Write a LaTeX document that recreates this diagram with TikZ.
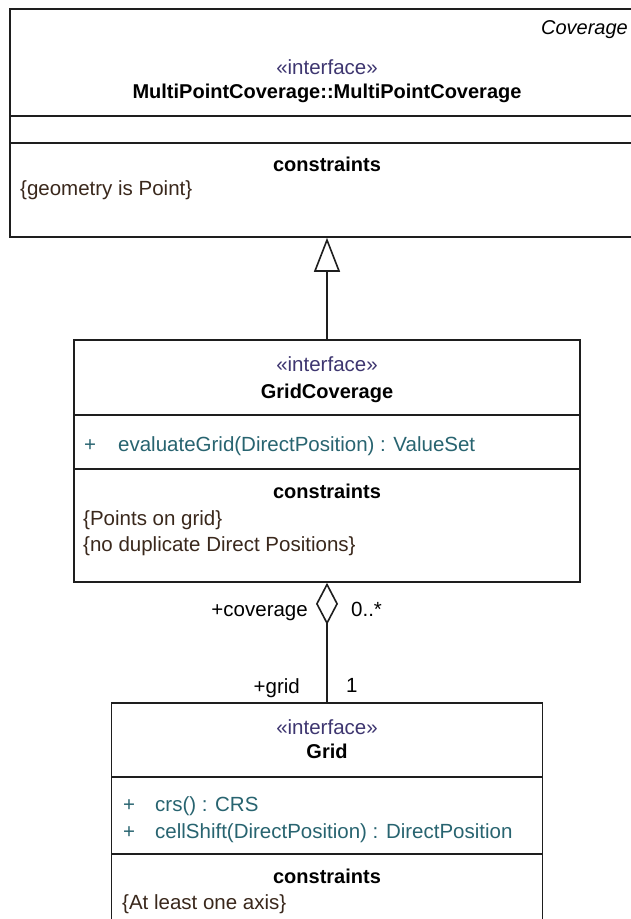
\documentclass[tikz,border=0pt]{standalone}
\usepackage{fontspec}
\setmainfont{Liberation Sans}
\usetikzlibrary{arrows.meta}
\definecolor{stereo}{RGB}{62,54,112}
\definecolor{opcol}{RGB}{40,100,112}
\definecolor{cstcol}{RGB}{58,40,28}
\definecolor{linecol}{RGB}{30,30,30}
\tikzset{
  umlfont/.style={font=\fontsize{20.5}{24}\selectfont},
  classbox/.style={draw=linecol, line width=1.6pt, fill=white, rectangle, inner sep=0pt},
  sepline/.style={draw=linecol, line width=1.6pt},
  stereotxt/.style={umlfont, text=stereo, anchor=mid},
  titletxt/.style={font=\fontsize{20}{24}\selectfont\bfseries, text=black, anchor=mid},
  optxt/.style={umlfont, text=opcol, anchor=mid west, inner sep=0pt},
  csttxt/.style={umlfont, text=cstcol, anchor=mid west, inner sep=0pt},
  roletxt/.style={umlfont, text=black, inner sep=0pt},
  conn/.style={draw=linecol, line width=1.6pt}
}
\begin{document}
\begin{tikzpicture}[x=1pt,y=-1pt]
\useasboundingbox (0,0) rectangle (631,919);
\clip (0,0) rectangle (631,919);
\fill[white] (0,0) rectangle (631,919);

% MultiPointCoverage box
\node[classbox, minimum width=634pt, minimum height=228pt] (mpc) at (327,123) {};
\draw[sepline] (10,116) -- (644,116);
\draw[sepline] (10,143) -- (644,143);
\node[font=\fontsize{20}{24}\selectfont\itshape, anchor=mid east, inner sep=0pt] (pkg) at (628,32) {Coverage};
\node[stereotxt] (mpcst) at (327,72) {«interface»};
\node[titletxt] (mpct) at (327,96) {MultiPointCoverage::MultiPointCoverage};
\node[titletxt] (mpcc) at (327,169) {constraints};
\node[csttxt] (mpcc1) at (20,193) {\{geometry is Point\}};

% GridCoverage box
\node[classbox, minimum width=506pt, minimum height=242pt] (gc) at (327,461) {};
\draw[sepline] (74,415) -- (580,415);
\draw[sepline] (74,469) -- (580,469);
\node[stereotxt] (gcst) at (327,369) {«interface»};
\node[titletxt] (gct) at (327,396) {GridCoverage};
\node[optxt] (gcp) at (84,449) {+};
\node[optxt] (gcop) at (118,449) {evaluateGrid(DirectPosition) : ValueSet};
\node[titletxt] (gcc) at (327,496) {constraints};
\node[csttxt] (gcc1) at (83,523) {\{Points on grid\}};
\node[csttxt] (gcc2) at (83,549) {\{no duplicate Direct Positions\}};

% Grid box
\node[classbox, minimum width=431pt, minimum height=260pt] (grid) at (327,833) {};
\draw[sepline] (111.5,777) -- (542.5,777);
\draw[sepline] (111.5,854) -- (542.5,854);
\node[stereotxt] (grst) at (327,732) {«interface»};
\node[titletxt] (grt) at (327,756) {Grid};
\node[optxt] (grp1) at (123,809) {+};
\node[optxt] (grop1) at (155,809) {crs() : CRS};
\node[optxt] (grp2) at (123,836) {+};
\node[optxt] (grop2) at (155,836) {cellShift(DirectPosition) : DirectPosition};
\node[titletxt] (grc) at (327,881) {constraints};
\node[csttxt] (grc1) at (122,907) {\{At least one axis\}};

% Generalization
\draw[conn, -{Triangle[open, length=34pt, width=26pt, line width=1.6pt]}] (gc.north) -- (mpc.south);

% Aggregation
\draw[conn, -{Diamond[open, length=42pt, width=22pt, line width=1.6pt]}] (grid.north) -- (gc.south);

\node[roletxt, anchor=mid east] (lcov) at (308,614) {+coverage};
\node[roletxt, anchor=mid west] (lmany) at (351,614) {0..*};
\node[roletxt, anchor=mid east] (lgrid) at (300,691) {+grid};
\node[roletxt, anchor=mid west] (lone) at (346,690) {1};
\end{tikzpicture}
\end{document}
